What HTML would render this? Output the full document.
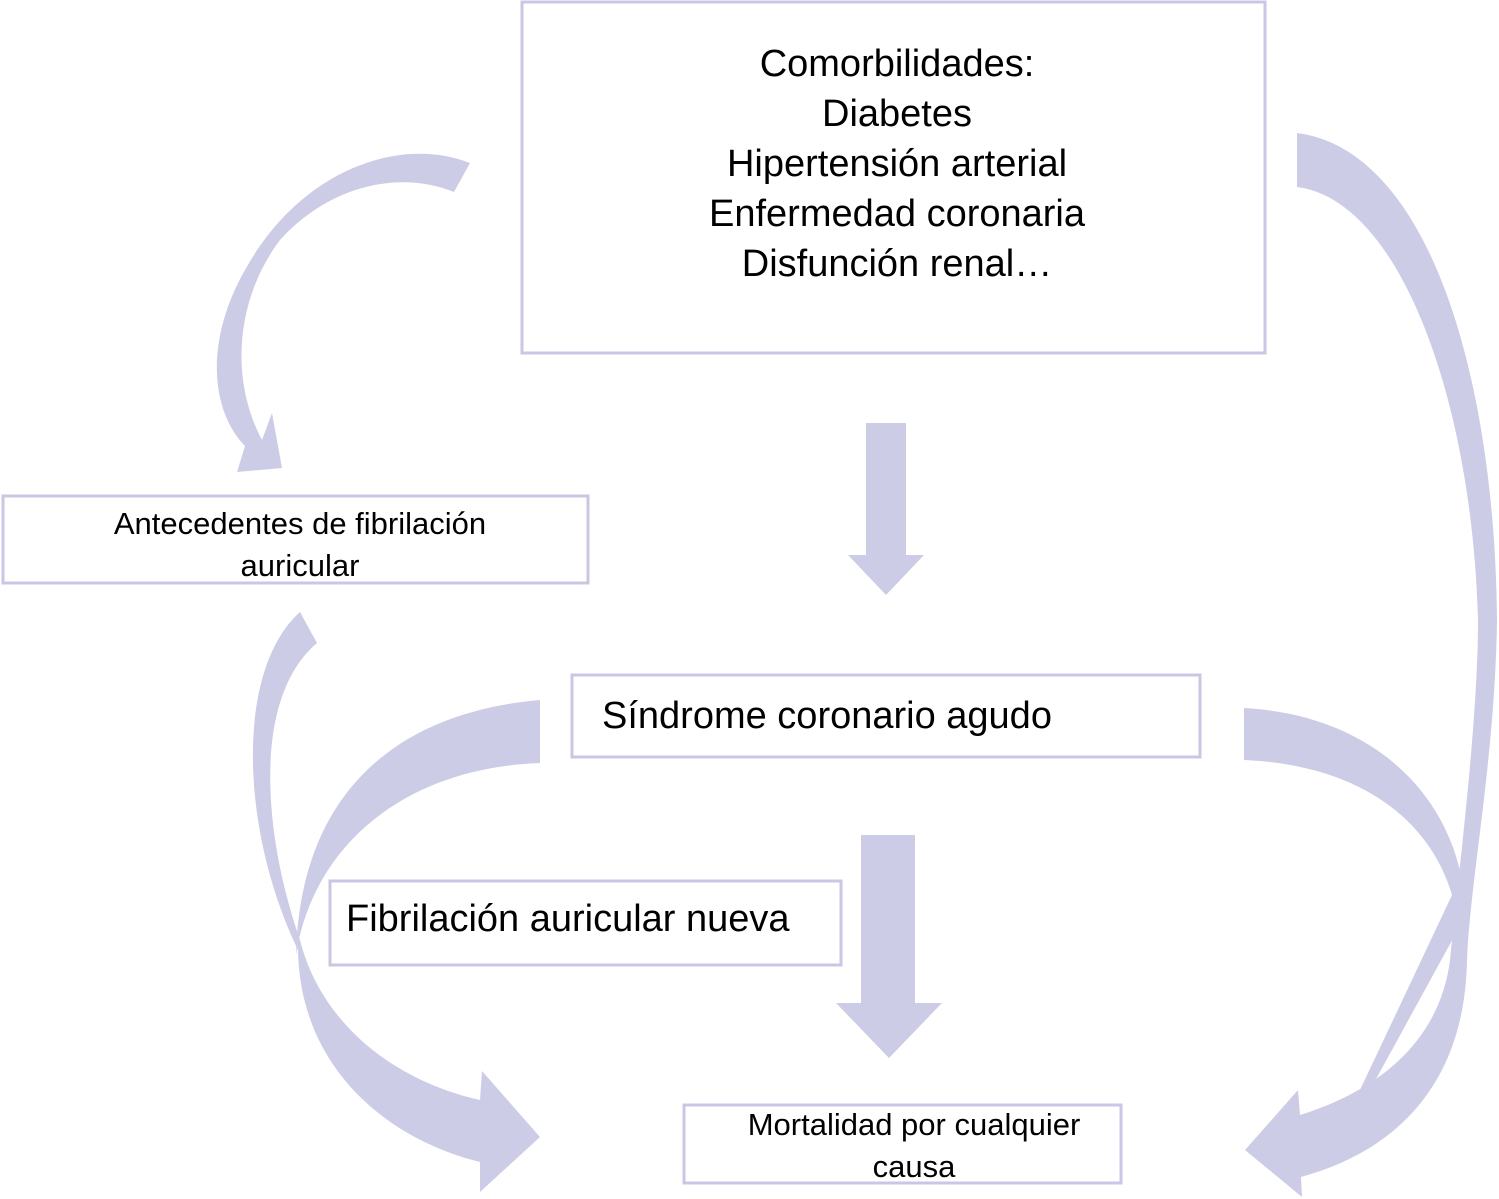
<!DOCTYPE html>
<html><head><meta charset="utf-8"><style>
html,body{margin:0;padding:0;background:#fff;}
svg{display:block;}
text{font-family:"Liberation Sans",Arial,sans-serif;fill:#000;}
</style></head><body>
<svg width="1499" height="1199" viewBox="0 0 1499 1199" xmlns="http://www.w3.org/2000/svg">
<g fill="#cdcce6" stroke="none">
<!-- top-left curved arrow -->
<path d="M470,163 C400,135 300,170 245,270 C205,340 210,410 245,446 L237,472 L282,468 L272,413 L262,440 C230,380 235,300 280,240 C330,185 400,170 454,192 Z"/>
<!-- left long arrow from antecedentes -->
<path d="M300,612 C235,670 240,830 298,950 C300,1070 390,1140 480,1162 L480,1192 L540,1137 L482,1071 L480,1100 C390,1080 320,1020 300,940 C265,840 250,700 317,643 Z"/>
<!-- SCA left curve -->
<path d="M540,700 C400,712 300,790 296,955 C312,850 400,768 540,763 Z"/>
<!-- SCA right curve -->
<path d="M1244,708 C1370,715 1445,790 1462,880 L1455,935 L1370,1090 L1360,1090 L1452,895 C1430,820 1360,765 1244,760 Z"/>
<!-- big right arrow -->
<path d="M1297,133 C1430,150 1495,380 1497,620 C1495,760 1470,880 1467,960 C1465,1080 1400,1150 1301,1177 L1302,1197 L1245,1150 L1298,1090 L1300,1115 C1380,1090 1440,1040 1450,960 C1460,860 1478,720 1478,620 C1472,400 1400,200 1297,187 Z"/>
<!-- straight arrows -->
<polygon points="866,423 906,423 906,555 924,555 886,595 848,555 866,555"/>
<polygon points="861,835 915,835 915,1003 942,1003 889,1058 836,1003 861,1003"/>
</g>
<g fill="#fff" stroke="#c9c7e3" stroke-width="3">
<rect x="522" y="2" width="743" height="351"/>
<rect x="3" y="496" width="585" height="87"/>
<rect x="572" y="675" width="628" height="82"/>
<rect x="330" y="881" width="511" height="84"/>
<rect x="684" y="1105" width="437" height="78"/>
</g>
<g font-size="38" text-anchor="middle">
<text x="897" y="76">Comorbilidades:</text>
<text x="897" y="126">Diabetes</text>
<text x="897" y="176">Hipertensión arterial</text>
<text x="897" y="226">Enfermedad coronaria</text>
<text x="897" y="276">Disfunción renal…</text>
</g>
<g font-size="31" text-anchor="middle">
<text x="300" y="534">Antecedentes de fibrilación</text>
<text x="300" y="576">auricular</text>
<text x="914" y="1135">Mortalidad por cualquier</text>
<text x="914" y="1177">causa</text>
</g>
<text x="602" y="728" font-size="38">Síndrome coronario agudo</text>
<text x="346" y="931" font-size="38">Fibrilación auricular nueva</text>
</svg>
</body></html>
